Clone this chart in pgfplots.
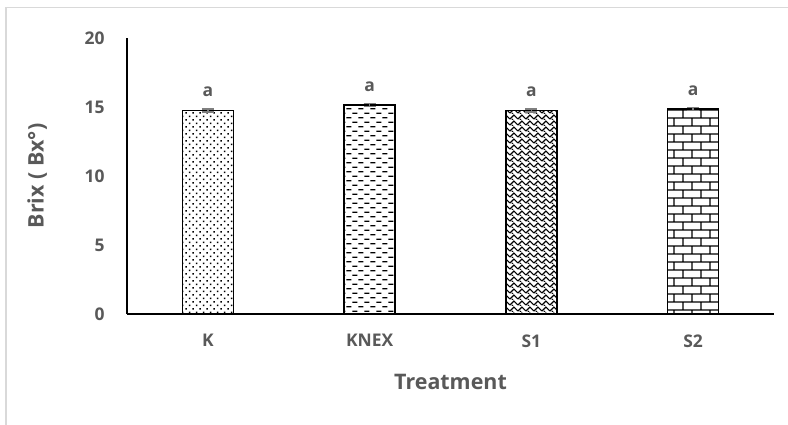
\documentclass[border=0pt]{standalone}
\usepackage{fontspec}
\setmainfont{Open Sans}
\usepackage{pgfplots}
\pgfplotsset{compat=1.18}
\usetikzlibrary{patterns}
\definecolor{txt}{HTML}{595959}
\definecolor{errc}{HTML}{7F7F7F}
\definecolor{frame}{HTML}{D9D9D9}
\pgfdeclarepatternformonly{mydots}{\pgfqpoint{0pt}{0pt}}{\pgfqpoint{7pt}{7pt}}{\pgfqpoint{7pt}{7pt}}{%
  \pgfpathrectangle{\pgfqpoint{1pt}{1pt}}{\pgfqpoint{1.5pt}{1.5pt}}%
  \pgfpathrectangle{\pgfqpoint{4.5pt}{4.5pt}}{\pgfqpoint{1.5pt}{1.5pt}}%
  \pgfusepath{fill}}
\pgfdeclarepatternformonly{mydash}{\pgfqpoint{0pt}{0pt}}{\pgfqpoint{12pt}{9pt}}{\pgfqpoint{12pt}{9pt}}{%
  \pgfsetlinewidth{1.3pt}%
  \pgfpathmoveto{\pgfqpoint{0.5pt}{2.2pt}}\pgfpathlineto{\pgfqpoint{5.5pt}{2.2pt}}%
  \pgfpathmoveto{\pgfqpoint{6.5pt}{6.7pt}}\pgfpathlineto{\pgfqpoint{11.5pt}{6.7pt}}%
  \pgfusepath{stroke}}
\pgfdeclarepatternformonly{myzig}{\pgfqpoint{0pt}{0pt}}{\pgfqpoint{8pt}{6pt}}{\pgfqpoint{8pt}{6pt}}{%
  \pgfsetlinewidth{1.1pt}%
  \pgfpathmoveto{\pgfqpoint{0pt}{1pt}}\pgfpathlineto{\pgfqpoint{4pt}{5pt}}\pgfpathlineto{\pgfqpoint{8pt}{1pt}}%
  \pgfpathmoveto{\pgfqpoint{2pt}{0pt}}\pgfpathlineto{\pgfqpoint{3pt}{1pt}}%
  \pgfusepath{stroke}}
\pgfdeclarepatternformonly{mybrick}{\pgfqpoint{0pt}{0pt}}{\pgfqpoint{18pt}{16pt}}{\pgfqpoint{18pt}{16pt}}{%
  \pgfsetlinewidth{1.3pt}%
  \pgfpathmoveto{\pgfqpoint{0pt}{4pt}}\pgfpathlineto{\pgfqpoint{18pt}{4pt}}%
  \pgfpathmoveto{\pgfqpoint{0pt}{12pt}}\pgfpathlineto{\pgfqpoint{18pt}{12pt}}%
  \pgfpathmoveto{\pgfqpoint{2pt}{4pt}}\pgfpathlineto{\pgfqpoint{2pt}{12pt}}%
  \pgfpathmoveto{\pgfqpoint{11pt}{12pt}}\pgfpathlineto{\pgfqpoint{11pt}{16pt}}%
  \pgfpathmoveto{\pgfqpoint{11pt}{0pt}}\pgfpathlineto{\pgfqpoint{11pt}{4pt}}%
  \pgfusepath{stroke}}
\pgfplotsset{myerr/.style={error bars/.cd, y dir=both, y explicit,
  error bar style={errc, line width=1.5bp},
  error mark options={errc, mark size=6bp, line width=1.5bp, rotate=90}}}
\begin{document}
\begin{tikzpicture}
\useasboundingbox (-127bp,-111bp) rectangle (661bp,314bp);
\fill[white] (-127bp,-111bp) rectangle (661bp,314bp);
\draw[frame, line width=1.5bp] (-121bp,-111bp) -- (-121bp,306.5bp) -- (661bp,306.5bp);
\begin{axis}[
  at={(0,0)}, anchor=south west,
  scale only axis, width=647bp, height=276bp,
  xmin=-0.5, xmax=3.5, ymin=0, ymax=20,
  axis x line*=bottom, axis y line*=left,
  axis line style={black, line width=1.5bp, -},
  xtick={0,1,2,3}, xticklabels={K,KNEX,S1,S2},
  ytick={0,5,10,15,20},
  major tick length=0pt,
  tick label style={font=\bfseries\fontsize{17.5}{20}\selectfont, text=txt},
  xticklabel style={yshift=-17bp},
  yticklabel style={xshift=-19bp},
  xlabel={Treatment}, ylabel={Brix ( Bx°)},
  label style={font=\bfseries\fontsize{21.5}{25}\selectfont, text=txt},
  xlabel style={at={(axis description cs:0.5,-0.246)}, anchor=center},
  ylabel style={at={(axis description cs:-0.139,0.5)}, anchor=center, rotate=0},
  ybar, bar width=51bp, bar shift=0pt,
  clip=false,
  /pgf/number format/assume math mode=true,
]
\addplot[draw=black, line width=1.5bp, pattern=mydots, myerr]
  coordinates {(0,14.75) +- (0,0.1)};
\addplot[draw=black, line width=1.5bp, pattern=mydash, myerr]
  coordinates {(1,15.15) +- (0,0.1)};
\addplot[draw=black, line width=1.5bp, pattern=myzig, myerr]
  coordinates {(2,14.75) +- (0,0.1)};
\addplot[draw=black, line width=1.5bp, pattern=mybrick, myerr]
  coordinates {(3,14.85) +- (0,0.1)};
\addplot[draw=none, fill=none, nodes near coords, point meta=explicit symbolic,
  nodes near coords style={font=\bfseries\fontsize{17.5}{20}\selectfont, text=txt, anchor=south, yshift=10bp}]
  coordinates {(0,14.75)[a] (1,15.15)[a] (2,14.75)[a] (3,14.85)[a]};
\end{axis}
\end{tikzpicture}
\end{document}
